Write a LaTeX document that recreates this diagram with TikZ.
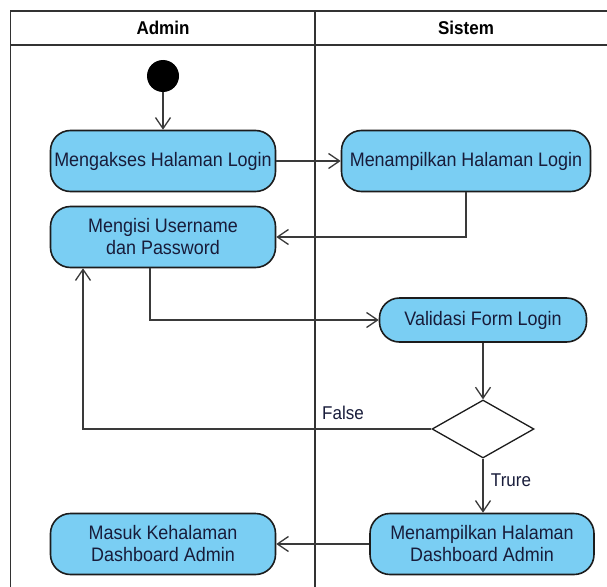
\documentclass[tikz,border=0pt]{standalone}
\usepackage{fontspec}
\setmainfont[FakeStretch=0.92]{Liberation Sans}
\usetikzlibrary{arrows.meta,shapes.geometric}

\definecolor{actfill}{RGB}{122,206,243}
\definecolor{actedge}{RGB}{28,28,28}
\definecolor{acttext}{RGB}{24,28,58}
\definecolor{flowline}{RGB}{58,58,58}
\definecolor{laneline}{RGB}{50,50,50}

\begin{document}
\begin{tikzpicture}[x=1pt,y=-1pt,
  act/.style={draw=actedge, line width=1.6pt, fill=actfill, rounded corners=20pt,
    minimum width=225pt, minimum height=61pt, inner sep=0pt, align=center,
    text=acttext, font=\fontsize{19.5}{22}\selectfont},
  flow/.style={draw=flowline, line width=1.3pt,
    -{Straight Barb[length=11pt,width=15pt,line width=1.3pt]}},
  lane/.style={draw=laneline, line width=1.6pt},
  lanehead/.style={font=\fontsize{18.5}{21}\selectfont\bfseries, text=black},
  guard/.style={font=\fontsize{18.5}{20}\selectfont, text=acttext, inner sep=0pt}
]
\useasboundingbox (0,0) rectangle (607,586);
\clip (0,0) rectangle (607,586);
\fill[white] (0,0) rectangle (607,586);

% swimlane frame
\draw[lane] (10.5,11) rectangle (640,640);
\draw[lane] (10.5,45) -- (640,45);
\draw[lane] (315,11) -- (315,640);
\node[lanehead] (hdA) at (163,28) {Admin};
\node[lanehead] (hdS) at (466,28) {Sistem};

% initial node
\node[circle, fill=black, minimum size=32pt, inner sep=0pt] (start) at (163,76) {};

% actions
\node[act] (a1) at (163,161) {Mengakses Halaman Login};
\node[act, minimum width=249pt] (s1) at (466,161) {Menampilkan Halaman Login};
\node[act] (a2) at (163,237) {Mengisi Username\\dan Password};
\node[act, minimum width=207pt, minimum height=44pt] (s2) at (483,320) {Validasi Form Login};
\node[draw=actedge, line width=1.3pt, fill=white, diamond, minimum width=102pt,
      minimum height=58pt, inner sep=0pt] (dec) at (483,429) {};
\node[act, minimum width=224pt] (s3) at (482,544) {Menampilkan Halaman\\Dashboard Admin};
\node[act] (a3) at (163,544) {Masuk Kehalaman\\Dashboard Admin};

% guard labels
\node[guard] (lblF) at (343,413) {False};
\node[guard] (lblT) at (511,480) {Trure};

% control flow
\draw[flow] (start) -- (a1);
\draw[flow] (a1) -- (s1);
\draw[flow] (s1.south) |- (a2.east);
\draw[flow] ([xshift=-13pt]a2.south) |- (s2.west);
\draw[flow] (s2.south) -- (dec.north);
\draw[flow] (dec.west) -| ([xshift=-80pt]a2.south);
\draw[flow] (dec.south) -- (s3.north -| dec.south);
\draw[flow] (s3.west) -- (a3.east);
\end{tikzpicture}
\end{document}
